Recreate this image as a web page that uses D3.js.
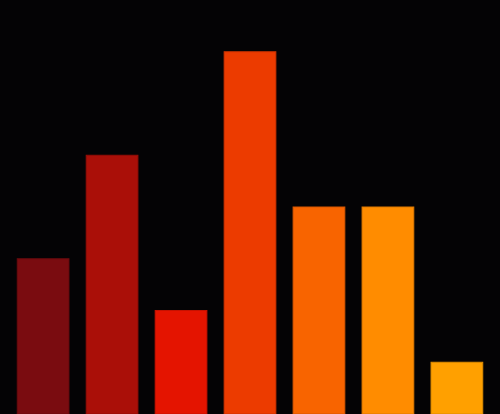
<!DOCTYPE html>
<html lang="en">
<head>
    <meta charset="utf-8">
    <title>Bars</title>
    <script src="https://d3js.org/d3.v7.min.js" charset="utf-8"></script>
    <style>
        html, body { margin: 0; padding: 0; background: #040305; overflow: hidden; }
        svg { display: block; }
    </style>
</head>
<body>
    <script>
    var categories = ["a", "b", "c", "d", "e", "f", "g"];
    var values = [3, 5, 2, 7, 4, 4, 1];
    var colors = ["#7a0c10", "#aa0f08", "#e41400", "#ec3b00", "#f86400", "#ff8c00", "#ffa000"];

    var w = 500, h = 414;

    var xScale = d3.scaleBand().domain(categories).range([0, w]).padding(0.25);
    var yScale = d3.scaleLinear().domain([0, 8]).range([h, 0]);

    var svg = d3.select("body").append("svg").attr("width", w).attr("height", h);

    svg.append("rect").attr("width", w).attr("height", h).attr("fill", "#040305");

    svg.selectAll(".bar")
        .data(values)
        .enter().append("rect")
        .attr("class", "bar")
        .attr("x", function (d, i) { return xScale(categories[i]); })
        .attr("y", function (d) { return yScale(d); })
        .attr("width", xScale.bandwidth())
        .attr("height", function (d) { return h - yScale(d); })
        .attr("fill", function (d, i) { return colors[i]; })
        .attr("stroke", function (d, i) { return d3.color(colors[i]).darker(0.4); })
        .attr("stroke-width", 1);
    </script>
</body>
</html>
